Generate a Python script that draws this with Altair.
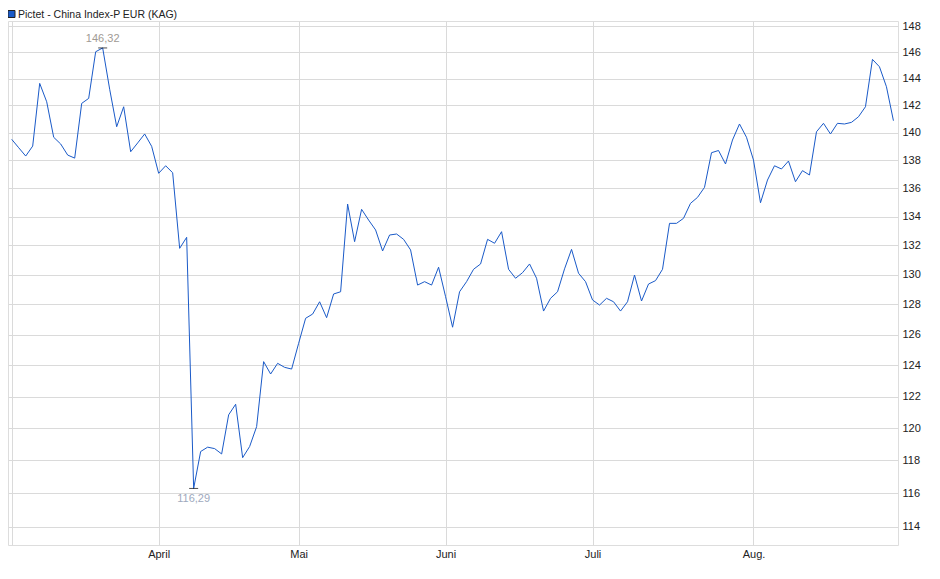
import altair as alt
import pandas as pd

legend_text = "Pictet - China Index-P EUR (KAG)"

# daily prices (trading-day index 0..126)
prices = [
    139.51, 138.90, 138.30, 139.02, 143.64, 142.27, 139.66, 139.17, 138.37, 138.15,
    142.15, 142.52, 146.03, 146.32, 143.20, 140.43, 141.90, 138.61, 139.25, 139.90,
    139.00, 137.06, 137.60, 137.10, 131.80, 132.56, 116.29, 118.55, 118.82, 118.73,
    118.40, 120.84, 121.51, 118.17, 118.86, 120.10, 124.24, 123.44, 124.13, 123.87,
    123.76, 125.43, 127.08, 127.36, 128.18, 127.12, 128.70, 128.85, 134.88, 132.26,
    134.51, 133.76, 133.07, 131.62, 132.72, 132.79, 132.42, 131.69, 129.30, 129.53,
    129.30, 130.51, 128.52, 126.49, 128.85, 129.53, 130.37, 130.73, 132.42, 132.15,
    132.95, 130.37, 129.76, 130.14, 130.73, 129.76, 127.56, 128.41, 128.85, 130.40,
    131.73, 130.10, 129.53, 128.30, 127.96, 128.41, 128.18, 127.56, 128.18, 129.98,
    128.23, 129.37, 129.60, 130.37, 133.53, 133.53, 133.88, 134.93, 135.35, 136.06,
    138.54, 138.70, 137.73, 139.46, 140.63, 139.66, 138.01, 134.97, 136.58, 137.60,
    137.37, 137.94, 136.46, 137.25, 136.94, 140.06, 140.68, 139.90, 140.68, 140.63,
    140.75, 141.16, 141.90, 145.45, 144.89, 143.39, 140.87,
]

month_idx = [0, 21, 41, 62, 83, 106]
month_labels = ["", "April", "Mai", "Juni", "Juli", "Aug."]
y_ticks = list(range(114, 149, 2))
max_label = "146,32"
min_label = "116,29"

FONT = "Liberation Sans"
LINE_BLUE = "#1a5ac8"
GRID = "#dadada"

df = pd.DataFrame({"i": list(range(len(prices))), "v": prices})
imax = prices.index(max(prices))
imin = prices.index(min(prices))
df_max = pd.DataFrame({"i": [imax], "v": [prices[imax]], "lab": [max_label]})
df_min = pd.DataFrame({"i": [imin], "v": [prices[imin]], "lab": [min_label]})
df_ext = pd.concat([df_max, df_min], ignore_index=True)
df_leg = pd.DataFrame({"t": [legend_text]})

label_expr = " : ".join(
    f"datum.value == {k} ? '{l}'" for k, l in zip(month_idx, month_labels)
) + " : ''"

x_enc = alt.X(
    "i:Q",
    scale=alt.Scale(domain=[-0.53, 126.65], nice=False, zero=False),
    axis=alt.Axis(
        values=month_idx, labelExpr=label_expr, title=None, ticks=False,
        domain=False, labelPadding=3, labelFontSize=11, labelFont=FONT,
        labelColor="#222222", gridColor=GRID, labelOverlap=False,
        labelFlush=False,
    ),
)
y_enc = alt.Y(
    "v:Q",
    scale=alt.Scale(type="log", domain=[112.91, 148.39], nice=False),
    axis=alt.Axis(
        orient="right", values=y_ticks, title=None, ticks=False, domain=False,
        labelPadding=4, labelFontSize=11, labelFont=FONT, labelColor="#222222",
        gridColor=GRID, labelOverlap=False, labelFlush=False,
    ),
)

line = alt.Chart(df).mark_line(color=LINE_BLUE, strokeWidth=1).encode(x=x_enc, y=y_enc)

ticks = alt.Chart(df_ext).mark_tick(
    orient="horizontal", size=9, thickness=1, color="#000000"
).encode(x="i:Q", y="v:Q")

max_text = alt.Chart(df_max).mark_text(
    dy=-4, baseline="bottom", align="center", fontSize=11, font=FONT, color="#a09a94"
).encode(x="i:Q", y="v:Q", text="lab:N")

min_text = alt.Chart(df_min).mark_text(
    dy=5, baseline="top", align="center", fontSize=11, font=FONT, color="#9ea9bd"
).encode(x="i:Q", y="v:Q", text="lab:N")

leg_square = alt.Chart(df_leg).mark_square(
    size=49, fill=LINE_BLUE, stroke="#222222", strokeWidth=1, opacity=1
).encode(x=alt.value(3.5), y=alt.value(-7))

leg_text = alt.Chart(df_leg).mark_text(
    align="left", baseline="alphabetic", fontSize=10.5, font=FONT, color="#222222"
).encode(x=alt.value(10), y=alt.value(-3), text="t:N")

chart = alt.layer(line, ticks, max_text, min_text, leg_square, leg_text).properties(
    width=890,
    height=524,
    autosize=alt.AutoSizeParams(type="none"),
    padding={"left": 0, "top": 13, "right": 24, "bottom": 26},
).configure_view(
    stroke="#cfcfcf", strokeWidth=1
).configure(background="white")

chart.save("out.html", embed_options={"renderer": "svg", "actions": False})
